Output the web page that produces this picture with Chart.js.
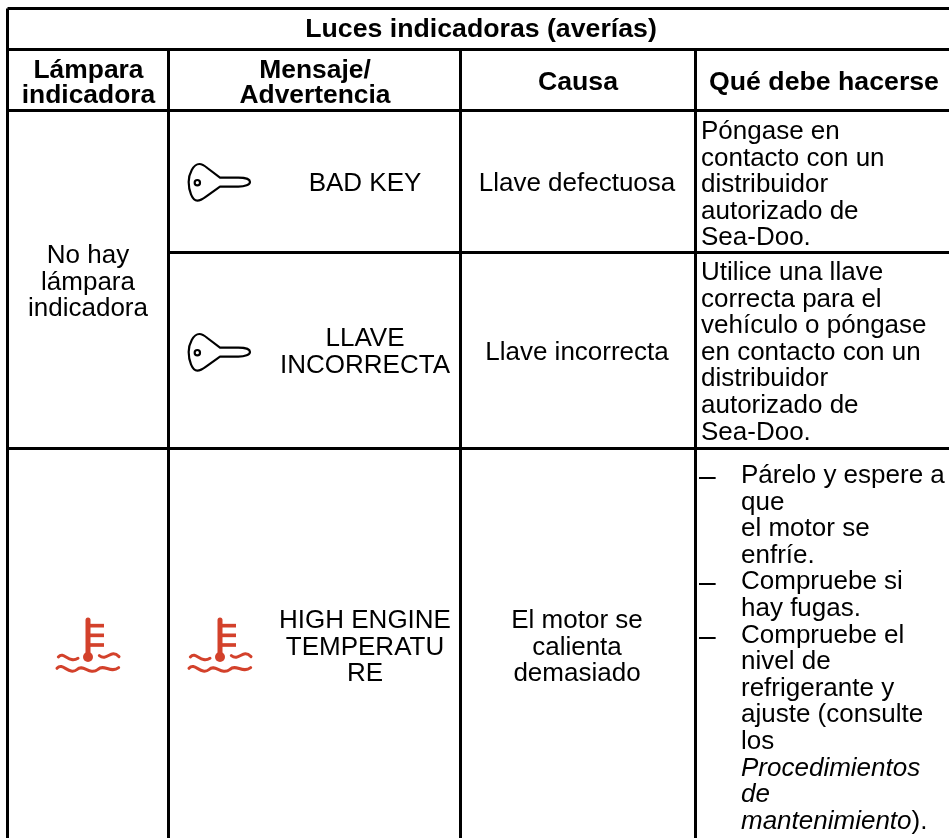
<!DOCTYPE html>
<html lang="es">
<head>
<meta charset="utf-8">
<title>Luces indicadoras (averías)</title>
<script src="https://cdn.jsdelivr.net/npm/chart.js@4"></script>
<style>
  html, body { margin: 0; padding: 0; background: #fff; }
  canvas { display: block; }
</style>
</head>
<body>
<canvas id="myChart" width="949" height="838"></canvas>
<script>
// table text
const tableTitle = 'Luces indicadoras (averías)';
const lampHeader = ['Lámpara', 'indicadora'];
const messageHeader = ['Mensaje/', 'Advertencia'];
const causeHeader = ['Causa'];
const actionHeader = ['Qué debe hacerse'];
const noLamp = ['No hay', 'lámpara', 'indicadora'];
const badKey = ['BAD KEY'];
const wrongKey = ['LLAVE', 'INCORRECTA'];
const highTemp = ['HIGH ENGINE', 'TEMPERATU', 'RE'];
const badKeyCause = ['Llave defectuosa'];
const wrongKeyCause = ['Llave incorrecta'];
const highTempCause = ['El motor se', 'calienta', 'demasiado'];
const badKeyAction = ['Póngase en', 'contacto con un', 'distribuidor', 'autorizado de', 'Sea-Doo.'];
const wrongKeyAction = ['Utilice una llave', 'correcta para el', 'vehículo o póngase', 'en contacto con un', 'distribuidor', 'autorizado de', 'Sea-Doo.'];
const tempActionPlain = ['Párelo y espere a', 'que', 'el motor se', 'enfríe.', 'Compruebe si', 'hay fugas.', 'Compruebe el', 'nivel de', 'refrigerante y', 'ajuste (consulte', 'los'];
const tempActionItalic = ['Procedimientos', 'de', 'mantenimiento'];
const tempActionEnd = ').';
const bulletRows = [0, 4, 6];

// grid of the table, in page pixels
const columnEdges = [7.5, 168.5, 460.5, 695.5];
const rowEdges = [8.5, 49.5, 110.5, 252.5, 448.5];
const pageWidth = 949;
const pageHeight = 838;

const keyIcons = [{ x: 220, y: 185 }, { x: 220, y: 355 }];
const tempIcons = [{ x: 93, y: 645 }, { x: 225, y: 645 }];

const LINE_STEP = 26.6;
const BODY_FONT = '26px "Liberation Sans"';
const ITALIC_FONT = 'italic 26px "Liberation Sans"';
const DASH_FONT = '30px "Liberation Sans"';
const BOLD_FONT = 'bold 26.7px "Liberation Sans"';
const BOLD_SMALL_FONT = 'bold 26.4px "Liberation Sans"';
const RED = '#d3412b';

const ruleSet = () => {
    const rules = [
        [[columnEdges[0], rowEdges[0]], [pageWidth, rowEdges[0]]],
        [[columnEdges[0], rowEdges[1]], [pageWidth, rowEdges[1]]],
        [[columnEdges[0], rowEdges[2]], [pageWidth, rowEdges[2]]],
        [[columnEdges[1], rowEdges[3]], [pageWidth, rowEdges[3]]],
        [[columnEdges[0], rowEdges[4]], [pageWidth, rowEdges[4]]],
        [[columnEdges[0], rowEdges[0]], [columnEdges[0], pageHeight]]
    ];
    columnEdges.slice(1).forEach(x => rules.push([[x, rowEdges[1]], [x, pageHeight]]));
    return rules.map(rule => ({
        type: 'scatter',
        showLine: true,
        pointRadius: 0,
        borderColor: '#000',
        borderWidth: 3,
        data: rule.map(p => ({ x: p[0], y: p[1] }))
    }));
};

const keyPicture = () => {
    const c = document.createElement('canvas');
    c.width = 100;
    c.height = 70;
    const g = c.getContext('2d');
    g.scale(1 / 3, 1 / 3);
    g.strokeStyle = '#000';
    g.lineWidth = 6.5;
    g.lineJoin = 'round';
    g.beginPath();
    g.moveTo(150, 83);
    g.lineTo(205, 83);
    g.bezierCurveTo(225, 83, 240, 88, 240, 96);
    g.bezierCurveTo(240, 104, 225, 110, 205, 110);
    g.lineTo(150, 110);
    g.lineTo(108, 140);
    g.quadraticCurveTo(92, 152, 82, 152);
    g.bezierCurveTo(66, 152, 56, 120, 56, 96);
    g.bezierCurveTo(56, 72, 70, 42, 88, 42);
    g.quadraticCurveTo(98, 42, 112, 54);
    g.lineTo(150, 83);
    g.closePath();
    g.stroke();
    g.beginPath();
    g.arc(82, 98, 8, 0, Math.PI * 2);
    g.stroke();
    return c;
};

const tempPicture = () => {
    const c = document.createElement('canvas');
    c.width = 110;
    c.height = 90;
    const g = c.getContext('2d');
    g.scale(1 / 3, 1 / 3);
    g.strokeStyle = RED;
    g.fillStyle = RED;
    g.lineCap = 'round';
    g.lineWidth = 15;
    g.beginPath();
    g.moveTo(150, 60);
    g.lineTo(150, 170);
    g.stroke();
    g.lineCap = 'butt';
    g.lineWidth = 11;
    [77, 106, 135].forEach(y => {
        g.beginPath();
        g.moveTo(150, y);
        g.lineTo(198, y);
        g.stroke();
    });
    g.beginPath();
    g.arc(150, 171, 15, 0, Math.PI * 2);
    g.fill();
    g.lineCap = 'round';
    g.lineWidth = 9;
    g.beginPath();
    g.moveTo(61, 171);
    g.bezierCurveTo(78, 152, 92, 192, 120, 175);
    g.stroke();
    g.beginPath();
    g.moveTo(184, 167);
    g.bezierCurveTo(208, 185, 218, 145, 243, 170);
    g.stroke();
    g.beginPath();
    g.moveTo(57, 205);
    g.bezierCurveTo(75, 185, 92, 228, 118, 208);
    g.bezierCurveTo(135, 190, 155, 228, 180, 208);
    g.bezierCurveTo(198, 190, 218, 222, 242, 203);
    g.stroke();
    return c;
};

const tableText = {
    id: 'tableText',
    afterDatasetsDraw(chart) {
        const { ctx, scales } = chart;
        const put = (lines, x, y, align, font, step = LINE_STEP) => {
            ctx.textAlign = align;
            ctx.font = font;
            lines.forEach((line, i) => {
                ctx.fillText(line, scales.x.getPixelForValue(x), scales.y.getPixelForValue(y + i * step));
            });
        };
        ctx.save();
        ctx.fillStyle = '#000';
        ctx.textBaseline = 'alphabetic';

        put([tableTitle], 481, 37, 'center', BOLD_FONT);
        put(lampHeader, 88.5, 78, 'center', BOLD_SMALL_FONT, 25);
        put(messageHeader, 315, 77.5, 'center', BOLD_SMALL_FONT, 25);
        put(causeHeader, 578, 90, 'center', BOLD_FONT);
        put(actionHeader, 824, 90, 'center', BOLD_FONT);

        put(noLamp, 88, 263, 'center', BODY_FONT);
        put(badKey, 365, 191, 'center', BODY_FONT);
        put(wrongKey, 365, 346, 'center', BODY_FONT);
        put(highTemp, 365, 628, 'center', BODY_FONT);
        put(badKeyCause, 577, 191, 'center', BODY_FONT);
        put(wrongKeyCause, 577, 360, 'center', BODY_FONT);
        put(highTempCause, 577, 628, 'center', BODY_FONT);
        put(badKeyAction, 701, 139, 'left', BODY_FONT);
        put(wrongKeyAction, 701, 280, 'left', BODY_FONT);

        const listTop = 483;
        const listX = 741;
        put(tempActionPlain, listX, listTop, 'left', BODY_FONT);
        bulletRows.forEach(row => put(['–'], 699, listTop + 3 + row * LINE_STEP, 'left', DASH_FONT));
        const italicTop = listTop + tempActionPlain.length * LINE_STEP;
        put(tempActionItalic, listX, italicTop, 'left', ITALIC_FONT);
        const lastLine = tempActionItalic[tempActionItalic.length - 1];
        const lastWidth = ctx.measureText(lastLine).width;
        put([tempActionEnd], listX + lastWidth, italicTop + 2 * LINE_STEP, 'left', BODY_FONT);
        ctx.restore();
    }
};

new Chart(document.getElementById('myChart').getContext('2d'), {
    type: 'scatter',
    data: {
        datasets: [
            ...ruleSet(),
            { data: keyIcons, pointStyle: keyPicture(), pointRadius: 1, showLine: false },
            { data: tempIcons, pointStyle: tempPicture(), pointRadius: 1, showLine: false }
        ]
    },
    options: {
        responsive: false,
        animation: false,
        layout: { padding: 0, autoPadding: false },
        plugins: { legend: { display: false }, tooltip: { enabled: false }, title: { display: false } },
        events: [],
        scales: {
            x: { type: 'linear', display: false, min: 0, max: pageWidth },
            y: { type: 'linear', display: false, min: 0, max: pageHeight, reverse: true }
        }
    },
    plugins: [tableText]
});
</script>
</body>
</html>
